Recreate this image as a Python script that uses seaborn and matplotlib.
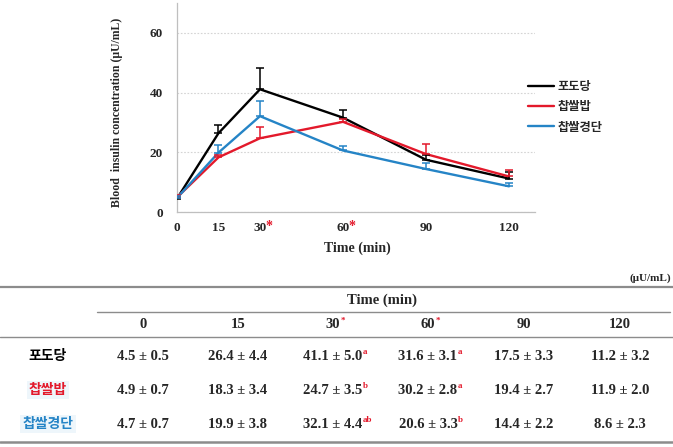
import numpy as np
import pandas as pd
import matplotlib
matplotlib.use("Agg")
import matplotlib.pyplot as plt
from matplotlib.font_manager import FontProperties
import seaborn as sns

# ---------------- data ----------------
time_points = [0, 15, 30, 60, 90, 120]
groups = ["포도당", "찹쌀밥", "찹쌀경단"]
glucose_mean = [4.5, 26.4, 41.1, 31.6, 17.5, 11.2]
rice_mean = [4.9, 18.3, 24.7, 30.2, 19.4, 11.9]
dumpling_mean = [4.7, 19.9, 32.1, 20.6, 14.4, 8.6]
glucose_sd = [0.5, 4.4, 5.0, 3.1, 3.3, 3.2]
rice_sd = [0.7, 3.4, 3.5, 2.8, 2.7, 2.0]
dumpling_sd = [0.7, 3.8, 4.4, 3.3, 2.2, 2.3]
# error bar heights as drawn on the chart
glucose_err = [0.6, 2.9, 7.2, 2.5, 1.5, 2.3]
rice_err = [0.7, 0.8, 3.8, 1.0, 3.5, 2.0]
dumpling_err = [0.7, 2.6, 5.0, 1.4, 2.0, 1.0]
# superscript letters in the table
glucose_sup = ["", "", "a", "a", "", ""]
rice_sup = ["", "", "b", "a", "", ""]
dumpling_sup = ["", "", "ab", "b", "", ""]
header_labels = ["0", "15", "30", "60", "90", "120"]
header_star = ["", "", "*", "*", "", ""]
starred_times = [30, 60]

colors = ["#000000", "#e3192b", "#2584c6"]

means = [glucose_mean, rice_mean, dumpling_mean]
sds = [glucose_sd, rice_sd, dumpling_sd]
errs = [glucose_err, rice_err, dumpling_err]
sups = [glucose_sup, rice_sup, dumpling_sup]

df = pd.DataFrame({
    "time": time_points * 3,
    "value": glucose_mean + rice_mean + dumpling_mean,
    "group": [g for g in groups for _ in time_points],
})

# ---------------- style ----------------
sns.set_style("white")
SERIF = "Liberation Serif"
KR = "Noto Sans CJK KR"
plt.rcParams["font.family"] = [SERIF, "DejaVu Sans"]

W, H = 673, 447
fig = plt.figure(figsize=(W / 100, H / 100), dpi=100)


def fx(px):
    return px / W


def fy(py):
    return 1 - py / H


# axes: x=0 at px 177, right edge px 535; y=0 at px 212, top px 3
ax = fig.add_axes([fx(177), fy(212), (535 - 177) / W, (212 - 3) / H])

sns.lineplot(data=df, x="time", y="value", hue="group", hue_order=groups,
             palette=colors, linewidth=1.7, ax=ax, errorbar=None, legend=True)

for m, e, c in zip(means, errs, colors):
    ax.errorbar(time_points, m, yerr=[np.zeros(len(e)), e], fmt="none",
                ecolor=c, elinewidth=1.1, capsize=2.6, capthick=1.1, zorder=3)

ax.set_xlim(0, 129.4)
ax.set_ylim(0, 70)
ax.set_xticks(time_points)
ax.set_yticks([0, 20, 40, 60])
ax.yaxis.grid(True, color="#d4d4d4", linestyle=(0, (1.5, 1.5)), linewidth=0.8)
ax.set_axisbelow(True)
for s in ["top", "right"]:
    ax.spines[s].set_visible(False)
for s in ["left", "bottom"]:
    ax.spines[s].set_color("#bfbfbf")
    ax.spines[s].set_linewidth(0.9)
ax.tick_params(axis="x", length=3, width=0.8, color="#bfbfbf", pad=4,
               labelsize=9.5)
ax.tick_params(axis="y", length=0, pad=10, labelsize=9.5)
for lab in ax.get_xticklabels() + ax.get_yticklabels():
    lab.set_fontweight("bold")
    lab.set_fontfamily(SERIF)

ax.set_xlabel("Time (min)", fontsize=10, fontweight="bold", family=SERIF)
ax.xaxis.set_label_coords(0.503, -0.14)
ax.set_ylabel("Blood  insulin concentration (μU/mL)", fontsize=8.5,
              fontweight="bold", family=SERIF)
ax.yaxis.set_label_coords(-0.151, 0.478)

for t in starred_times:
    ax.annotate("*", xy=(t, 0), xycoords=ax.get_xaxis_transform(),
                xytext=(9, -14), textcoords="offset pixels", color=colors[1],
                fontsize=10, fontweight="bold", ha="center", va="center")

handles, labels = ax.get_legend_handles_labels()
ax.legend(handles, labels, loc="upper left", bbox_to_anchor=(fx(528), fy(80)),
          bbox_transform=fig.transFigure, frameon=False,
          prop=FontProperties(family=[KR, "DejaVu Sans"], weight="bold", size=8.8),
          handlelength=2.1, handletextpad=0.35, labelspacing=0.6,
          borderaxespad=0, borderpad=0)

# ---------------- table ----------------
line_c = "#8c8c8c"
fig.add_artist(plt.Line2D([0, 1], [fy(286.5)] * 2, color=line_c, lw=1.6))
fig.add_artist(plt.Line2D([fx(97), fx(670)], [fy(311.5)] * 2, color=line_c, lw=1.0))
fig.add_artist(plt.Line2D([0, 1], [fy(337)] * 2, color=line_c, lw=1.0))
fig.add_artist(plt.Line2D([0, 1], [fy(442)] * 2, color=line_c, lw=1.8))

fig.text(fx(671), fy(278), "(μU/mL)", ha="right", va="center",
         fontsize=8, fontweight="bold", family=SERIF)
fig.text(fx(382), fy(300), "Time (min)", ha="center", va="center",
         fontsize=10.5, fontweight="bold", family=SERIF)

col_x = [143, 238, 333, 428, 524, 620]
row_y = [356, 390, 424]
header_y = 325

for x, lab, st in zip(col_x, header_labels, header_star):
    t = fig.text(fx(x), fy(header_y), lab, ha="center", va="center",
                 fontsize=10.5, fontweight="bold", family=SERIF)
    if st:
        fig.add_artist(plt.Annotation(st, xy=(1, 0.55), xycoords=t,
                                      xytext=(0.3, 0), textcoords="offset points",
                                      ha="left", va="bottom", fontsize=6.5,
                                      fontweight="bold", color=colors[1],
                                      family=SERIF))

label_bg = [None, "#eef6fb", "#eef6fb"]
for gi, (g, c) in enumerate(zip(groups, colors)):
    y = row_y[gi]
    kw = {}
    if label_bg[gi]:
        kw["bbox"] = dict(facecolor=label_bg[gi], edgecolor="none", pad=1.5)
    fig.text(fx(48), fy(y), g, ha="center", va="center", fontsize=10,
             fontweight="bold", family=[KR, "DejaVu Sans"], color=c, **kw)
    for x, m, sd, sp in zip(col_x, means[gi], sds[gi], sups[gi]):
        t = fig.text(fx(x), fy(y), f"{m:.1f} ± {sd:.1f}", ha="center",
                     va="center", fontsize=10.5, fontweight="bold", family=SERIF)
        if sp:
            fig.add_artist(plt.Annotation(sp, xy=(1, 0.5), xycoords=t,
                                          xytext=(0.3, 0), textcoords="offset points",
                                          ha="left", va="bottom", fontsize=6.5,
                                          fontweight="bold", color=colors[1],
                                          family=SERIF))

fig.savefig("out.png", dpi=100)
